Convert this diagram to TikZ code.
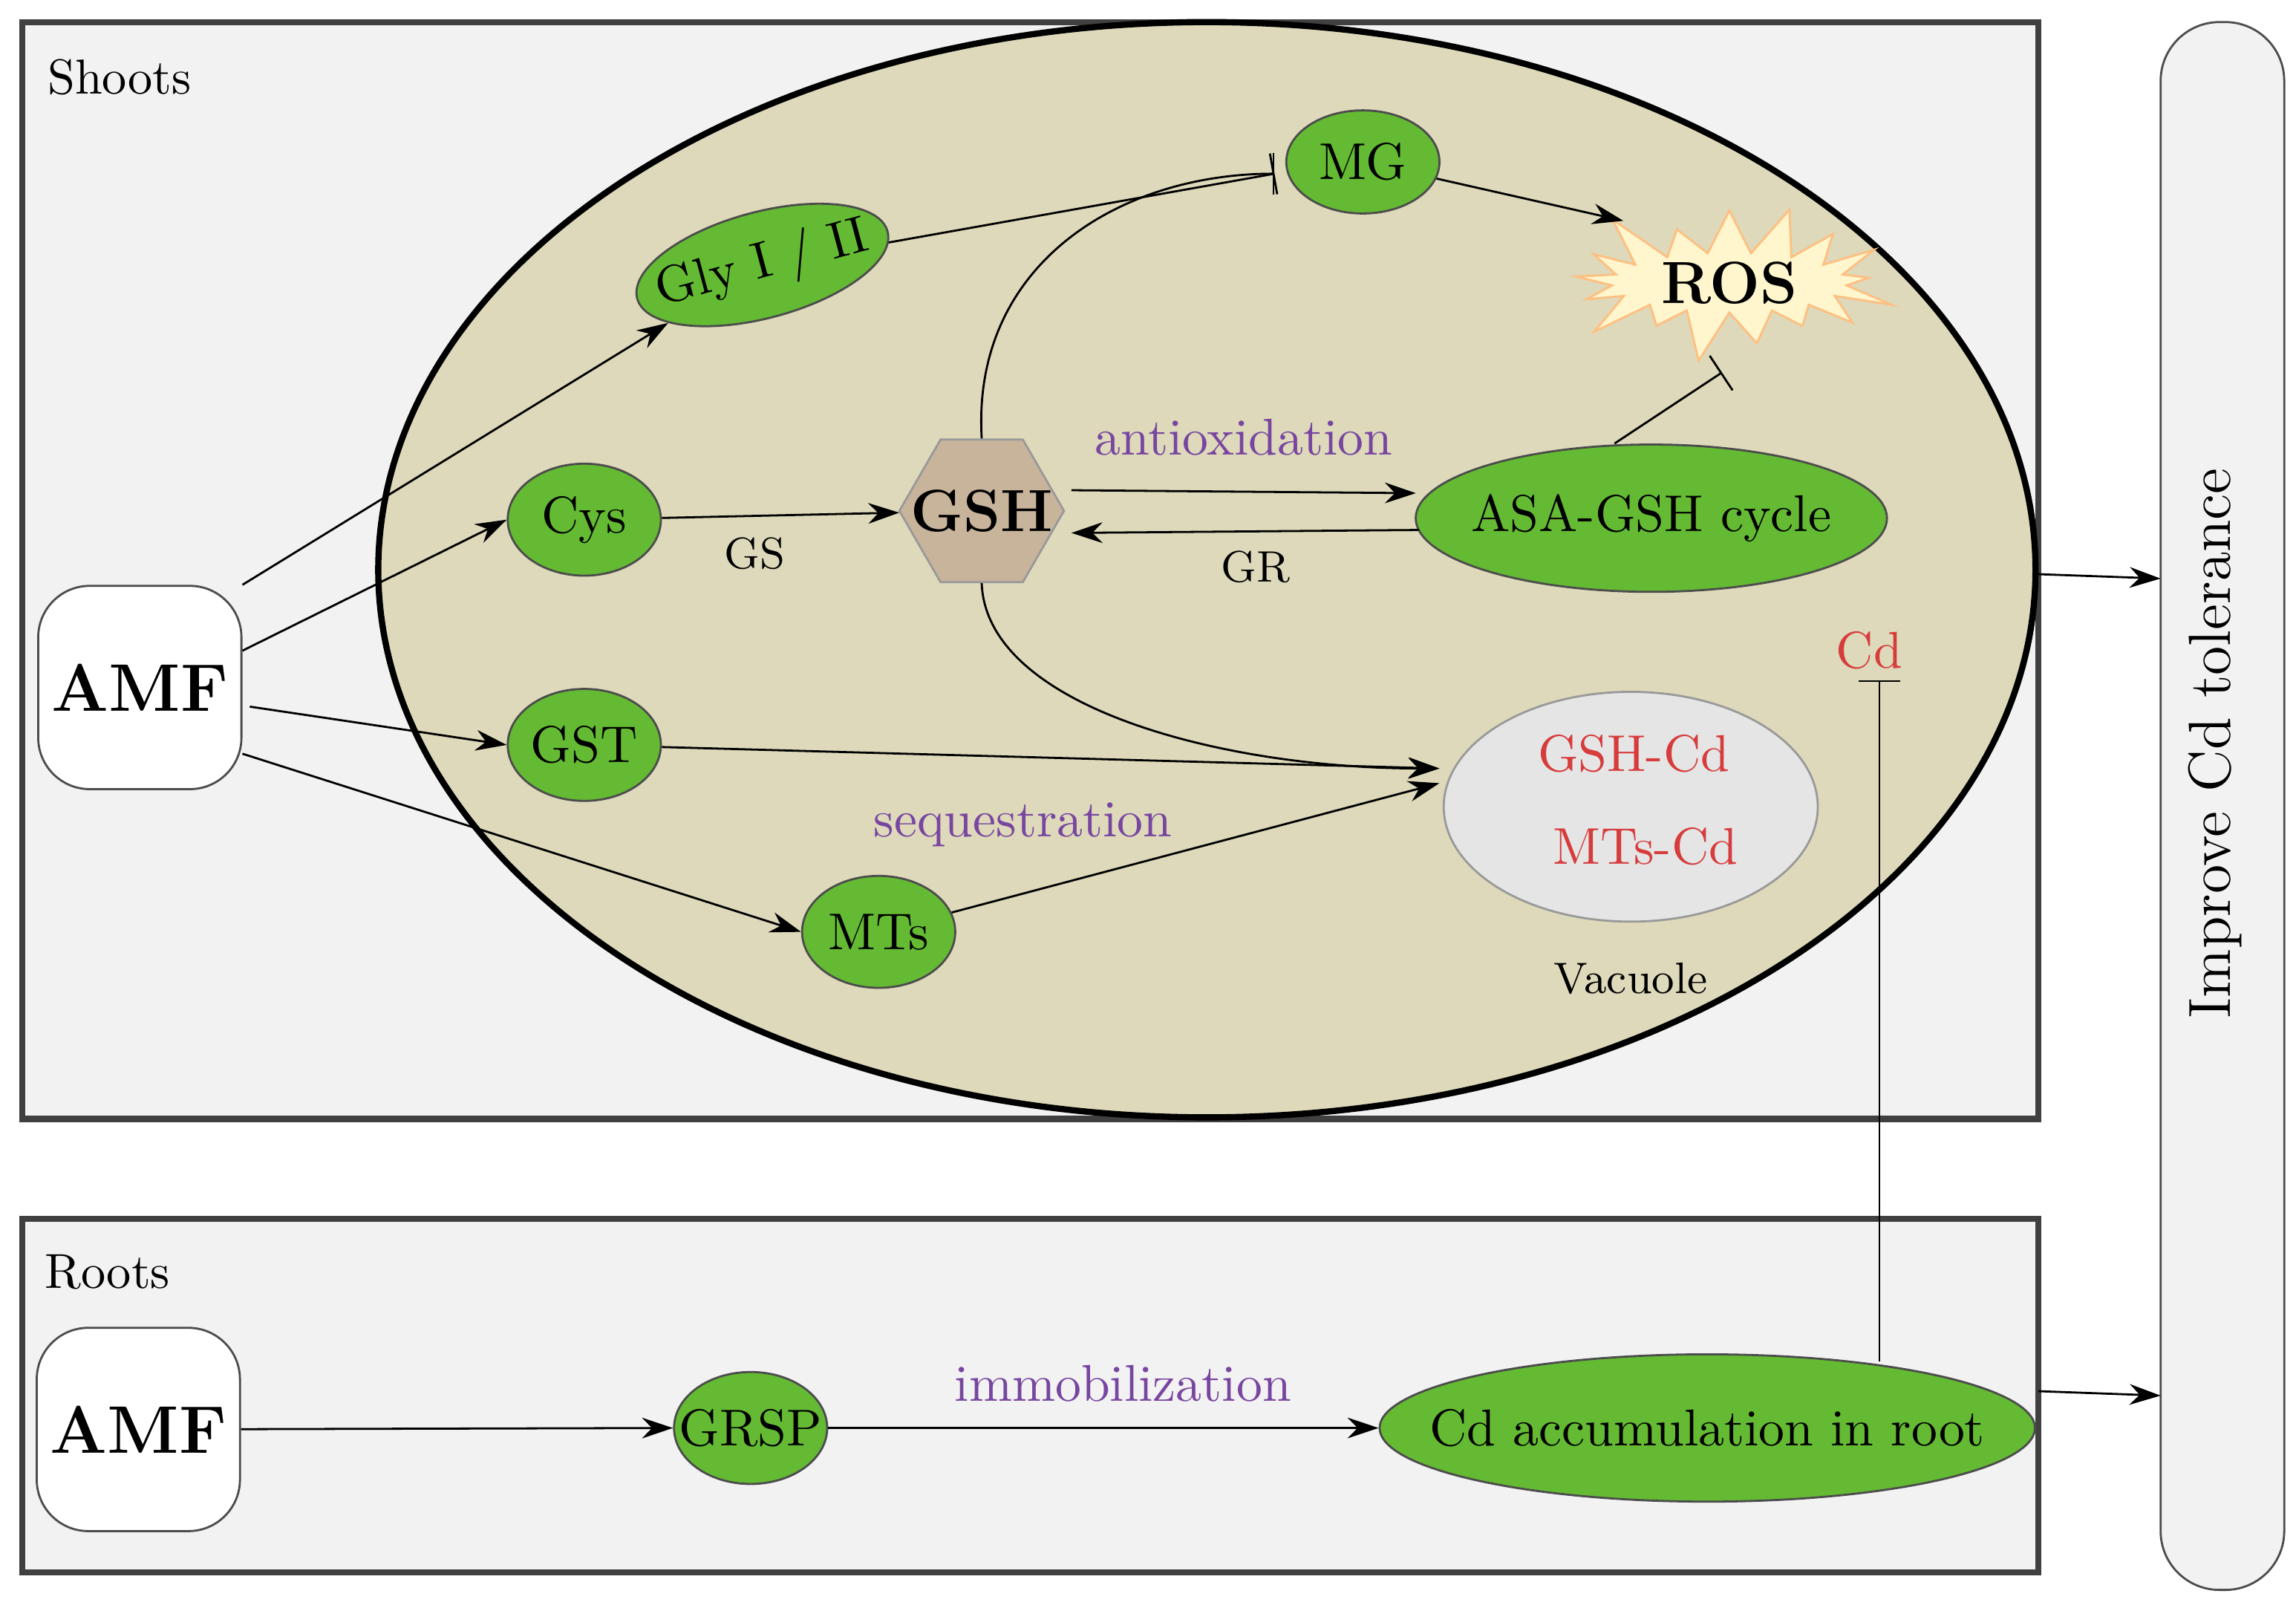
\documentclass[tikz,border=0pt]{standalone}
\usetikzlibrary{shapes.geometric,shapes.symbols,arrows.meta}
\definecolor{boxgray}{RGB}{242,242,242}
\definecolor{cellfill}{RGB}{221,217,186}
\definecolor{leafgreen}{RGB}{100,186,50}
\definecolor{gshbrown}{RGB}{200,180,155}
\definecolor{rosfill}{RGB}{255,246,205}
\definecolor{labpurple}{RGB}{120,70,160}
\definecolor{cdred}{RGB}{215,60,60}
\tikzset{
  green/.style={ellipse, draw=black!70, fill=leafgreen, inner sep=0pt, inner xsep=-6pt, font=\fontsize{10}{12}\selectfont},
  amf/.style={draw=black!70, fill=white, rounded corners=0.35cm, inner sep=0pt, minimum width=1.38cm, minimum height=1.38cm, font=\fontsize{13}{15}\selectfont\bfseries},
  region/.style={draw=black!75, line width=1.2pt, fill=boxgray},
  arr/.style={-{Stealth[length=6pt,width=4pt]}, thin},
  inh/.style={-{Bar[width=8pt]}, thin},
  lab/.style={font=\fontsize{10}{12}\selectfont, text=labpurple},
  small/.style={font=\fontsize{8.5}{10}\selectfont}
}
\begin{document}
\begin{tikzpicture}[x=0.01cm, y=-0.01cm]
      \useasboundingbox (0, 0) rectangle (1560, 1094);
      % regions
      \draw [region] (15, 15) rectangle (1385, 760);
      \draw [region] (15, 828) rectangle (1385, 1068);
      \draw [draw=black!70, fill=boxgray, rounded corners=0.4cm] (1468, 15) rectangle (1552, 1080);
      \node (tol) [rotate=90, font=\fontsize{11.5}{14}\selectfont] at (1505, 505) {Improve Cd tolerance};
      \node [anchor=north west, font=\fontsize{9.5}{12}\selectfont] at (20, 28) {Shoots};
      \node [anchor=north west, font=\fontsize{9.5}{12}\selectfont] at (18, 840) {Roots};
      \draw [line width=1.2pt, fill=cellfill] (820, 387) ellipse [x radius=563, y radius=372];
      \coordinate (cellR) at (1384, 390);
      \coordinate (tolA) at (1468, 393);
      \coordinate (tolB) at (1468, 948);
      % nodes
      \node (amf1) [amf] at (95, 467) {AMF};
      \node (amf2) [amf] at (94, 971) {AMF};
      \node (gly) [green, rotate=15, minimum width=1.76cm, minimum height=0.72cm] at (518, 180) {Gly I / II};
      \node (mg) [green, minimum width=1.04cm, minimum height=0.7cm] at (926, 110) {MG};
      \node (cys) [green, minimum width=1.04cm, minimum height=0.76cm] at (397, 353) {Cys};
      \node (gst) [green, minimum width=1.04cm, minimum height=0.76cm] at (397, 506) {GST};
      \node (mts) [green, minimum width=1.04cm, minimum height=0.76cm] at (597, 633) {MTs};
      \node (asa) [green, inner xsep=-18pt, minimum width=3.2cm, minimum height=1.0cm] at (1122, 352) {ASA-GSH cycle};
      \node (grsp) [green, minimum width=1.04cm, minimum height=0.76cm] at (510, 970) {GRSP};
      \node (cdacc) [green, inner xsep=-28pt, minimum width=4.45cm, minimum height=1.0cm] at (1160, 970) {Cd accumulation in root};
      \node (gsh) [regular polygon, regular polygon sides=6, draw=black!40, fill=gshbrown, minimum size=1.1cm, inner sep=-4pt, font=\fontsize{11.5}{13}\selectfont\bfseries] at (667, 347) {GSH};
      \node (ros) [starburst, starburst points=17, starburst point height=0.4cm, draw=orange!50, fill=rosfill, minimum width=2.4cm, minimum height=1.2cm, inner sep=0pt, font=\fontsize{11.5}{13}\selectfont\bfseries] at (1175, 192) {ROS};
      \node (vac) [ellipse, draw=black!40, fill=black!10, minimum width=2.54cm, minimum height=1.56cm] at (1108, 548) {};
      \node [font=\fontsize{10}{12}\selectfont, text=cdred] at (1110, 512) {GSH-Cd};
      \node [font=\fontsize{10}{12}\selectfont, text=cdred] at (1118, 575) {MTs-Cd};
      \node [small] at (1108, 665) {Vacuole};
      \node (cd) [font=\fontsize{10}{12}\selectfont, text=cdred] at (1270, 442) {Cd};
      \node [small] at (513, 376) {GS};
      \node [small] at (853, 385) {GR};
      \node [lab] at (845, 297) {antioxidation};
      \node [lab] at (695, 560) {sequestration};
      \node [lab] at (763, 940) {immobilization};
      \coordinate (mgbar) at (866, 118);
      \coordinate (vacin) at (978, 522);
      \coordinate (vacin2) at (978, 532);
      \coordinate (cdbot) at (1277, 925);
      \coordinate (rosbar) at (1170, 253);
      \coordinate (rosin) at (1103, 150);
      \coordinate (gshR1) at (728, 333);
      \coordinate (gshR2) at (728, 362);
      \coordinate (asaL1) at (962, 335);
      \coordinate (asaL2) at (964, 360);
      % connectors
      \draw [arr] (amf1.north east) -- (gly);
      \draw [arr] (amf1.east) ++(0,-25) -- (cys.west);
      \draw [arr] (amf1.east) ++(5,13) -- (gst.west);
      \draw [arr] (amf1.east) ++(0,45) -- (mts.west);
      \draw [arr] (cys) -- (gsh);
      \draw [arr] (gshR1) -- (asaL1);
      \draw [arr] (asaL2) -- (gshR2);
      \draw [inh] (gly) -- (mgbar);
      \draw [inh] (gsh.north) .. controls (660, 180) and (760, 118) .. (mgbar);
      \draw [arr] (mg) -- (rosin);
      \draw [inh] (asa.north) ++(-25,0) -- (rosbar);
      \draw [arr] (gsh.south) .. controls (670, 480) and (830, 522) .. (vacin);
      \draw [arr] (gst) -- (vacin);
      \draw [arr] (mts) -- (vacin2);
      \draw [inh] (cdbot) -- (1277, 462);
      \draw [arr] (cellR) -- (tolA);
      \draw [arr] (amf2) -- (grsp.west);
      \draw [arr] (grsp) -- (cdacc.west);
      \draw [arr] (1385, 945) -- (tolB);
\end{tikzpicture}
\end{document}
